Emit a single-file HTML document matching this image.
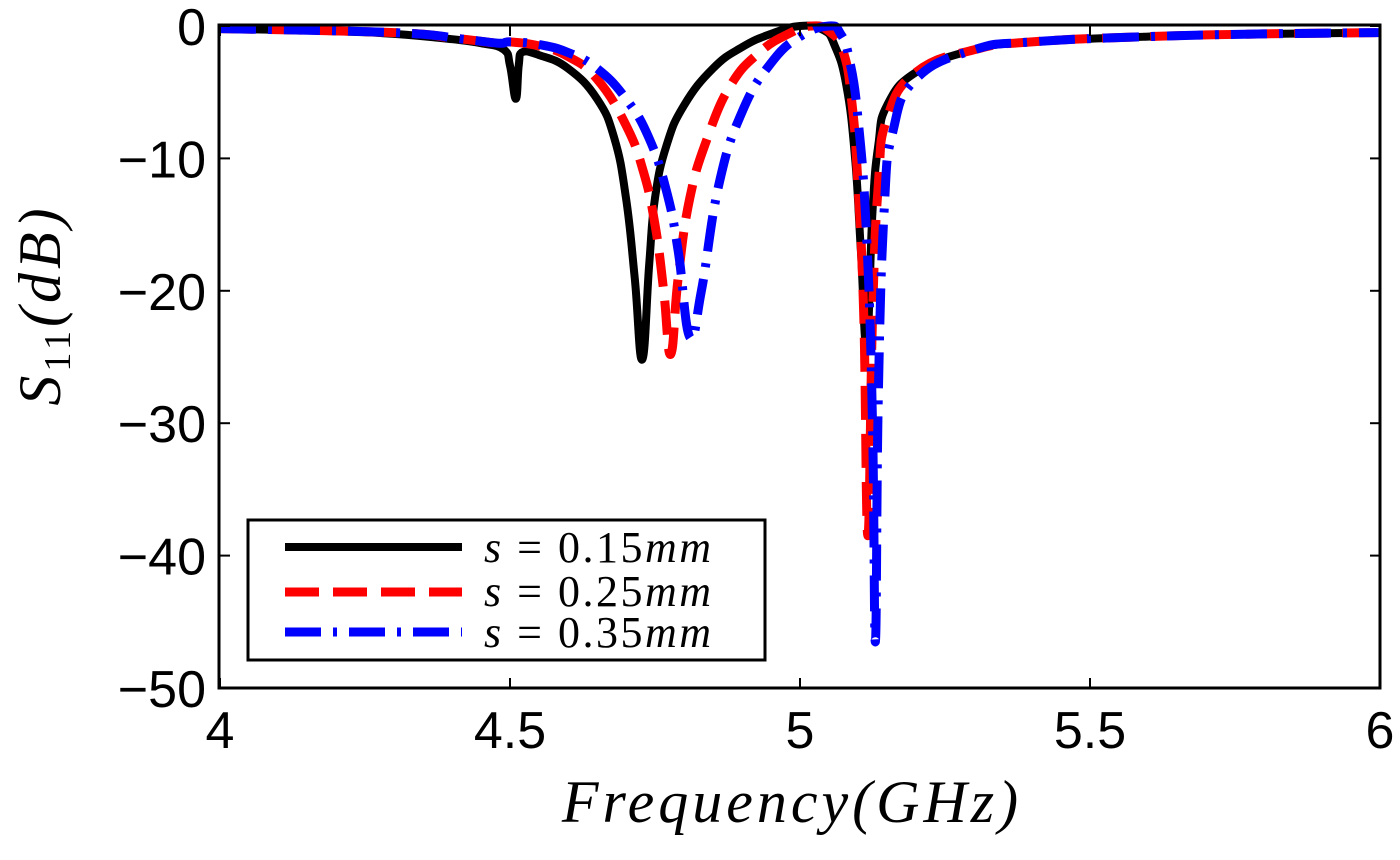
<!DOCTYPE html>
<html><head><meta charset="utf-8"><style>
body{margin:0;background:#fff}
svg{display:block}
.tick{font-family:"Liberation Sans",sans-serif;font-size:52px;fill:#000}
.math{font-family:"Liberation Serif",serif;font-style:italic;fill:#000}
</style></head><body>
<svg id="chart" width="1400" height="860" viewBox="0 0 1400 860" xmlns="http://www.w3.org/2000/svg">
<g id="series"></g>
<rect x="219" y="25" width="1161" height="663" fill="none" stroke="#000" stroke-width="3"/>
<g id="ticks"></g>
<text class="math" x="792" y="822" font-size="60" letter-spacing="4" text-anchor="middle">Frequency(GHz)</text>
<text class="math" font-size="60" letter-spacing="4" transform="translate(60,305) rotate(-90)" text-anchor="middle">S<tspan font-style="normal" font-size="38" dy="10">11</tspan><tspan dy="-10">(dB)</tspan></text>
<g>
<rect x="248" y="520" width="517" height="140" fill="#fff" stroke="#000" stroke-width="3"/>
<line x1="285" y1="547" x2="462" y2="547" stroke="#000" stroke-width="8"/>
<line x1="285" y1="592" x2="462" y2="592" stroke="#f00" stroke-width="9" stroke-dasharray="34 14"/>
<line x1="285" y1="632" x2="462" y2="632" stroke="#00f" stroke-width="9" stroke-dasharray="36 12 4 12"/>
<text class="math" x="484" y="562" font-size="44" letter-spacing="2.5">s <tspan font-style="normal">= 0.15</tspan>mm</text>
<text class="math" x="484" y="606" font-size="44" letter-spacing="2.5">s <tspan font-style="normal">= 0.25</tspan>mm</text>
<text class="math" x="484" y="647" font-size="44" letter-spacing="2.5">s <tspan font-style="normal">= 0.35</tspan>mm</text>
</g>
</svg>
<script>
const xTicks=[4,4.5,5,5.5,6];
const xTickLabels=["4","4.5","5","5.5","6"];
const yTicks=[0,-10,-20,-30,-40,-50];
const yTickLabels=["0","\u221210","\u221220","\u221230","\u221240","\u221250"];
const seriesNames=["s=0.15mm","s=0.25mm","s=0.35mm"];
const fBlack=[4.0,4.2,4.3,4.4,4.45,4.49,4.5,4.51,4.515,4.52,4.55,4.6,4.65,4.68,4.70,4.715,4.728,4.74,4.75,4.77,4.8,4.85,4.9,4.95,5.0,5.04,5.06,5.08,5.095,5.105,5.115,5.125,5.135,5.15,5.2,5.3,5.4,5.6,5.8,6.0];
const dBlack=[-0.2,-0.4,-0.6,-1.0,-1.3,-1.8,-3,-5.5,-3,-2,-2.2,-3.2,-5.5,-8.5,-13,-19,-25.2,-18,-13,-9,-6,-3.2,-1.6,-0.6,0,-0.3,-1.5,-4.5,-10,-17,-24,-14,-9,-6,-3.5,-1.8,-1.2,-0.8,-0.6,-0.5];
const fRed=[4.0,4.3,4.4,4.48,4.5,4.55,4.6,4.65,4.7,4.73,4.75,4.765,4.777,4.79,4.81,4.84,4.88,4.93,4.98,5.02,5.05,5.075,5.09,5.1,5.11,5.117,5.125,5.135,5.15,5.2,5.3,5.4,5.6,5.8,6.0];
const dRed=[-0.2,-0.5,-0.9,-1.3,-1.2,-1.5,-2.3,-4,-7.5,-11,-15,-20,-24.8,-19,-13,-8.5,-4.5,-2,-0.6,0,-0.4,-2,-6,-12,-22,-38.5,-22,-12,-7,-3.5,-1.8,-1.2,-0.8,-0.6,-0.5];
const fBlue=[4.0,4.3,4.42,4.48,4.5,4.55,4.6,4.65,4.7,4.74,4.77,4.79,4.81,4.83,4.86,4.9,4.95,5.0,5.05,5.07,5.085,5.1,5.115,5.125,5.13,5.135,5.145,5.16,5.2,5.3,5.4,5.6,5.8,6.0];
const dBlue=[-0.2,-0.5,-1.0,-1.3,-1.2,-1.4,-2.0,-3.2,-5.5,-8.5,-12.5,-17,-23.5,-20,-12,-6.5,-2.8,-0.8,0,-0.6,-2.5,-7,-16,-30,-46.5,-28,-14,-8,-4,-1.8,-1.2,-0.8,-0.6,-0.5];
const NS="http://www.w3.org/2000/svg";
const X0=220,X1=1380,Y0=26,Y1=688;
function xs(f){return X0+(f-4)/(6-4)*(X1-X0);}
function ys(d){return Y0+(0-d)/(50)*(Y1-Y0);}
const tg=document.getElementById('ticks');
xTicks.forEach((v,i)=>{
 const t=document.createElementNS(NS,'text');
 
 
 t.setAttribute('class','tick');t.setAttribute('x',xs(v));t.setAttribute('y',748);t.setAttribute('text-anchor','middle');
 t.textContent=xTickLabels[i];tg.appendChild(t);
 [[Y1,Y1-10],[Y0,Y0+10]].forEach(p=>{const l=document.createElementNS(NS,'line');
 
 
 l.setAttribute('x1',xs(v));l.setAttribute('x2',xs(v));l.setAttribute('y1',p[0]);l.setAttribute('y2',p[1]);l.setAttribute('stroke','#000');l.setAttribute('stroke-width','2');tg.appendChild(l);});
});
yTicks.forEach((v,i)=>{
 const t=document.createElementNS(NS,'text');
 
 
 t.setAttribute('class','tick');t.setAttribute('x',206);t.setAttribute('y',ys(v)+19);t.setAttribute('text-anchor','end');
 t.textContent=yTickLabels[i];tg.appendChild(t);
 [[X0,X0+10],[X1,X1-10]].forEach(p=>{const l=document.createElementNS(NS,'line');
 
 
 l.setAttribute('x1',p[0]);l.setAttribute('x2',p[1]);l.setAttribute('y1',ys(v));l.setAttribute('y2',ys(v));l.setAttribute('stroke','#000');l.setAttribute('stroke-width','2');tg.appendChild(l);});
});
const sg=document.getElementById('series');
function smoothPath(pts){
 let d='M'+pts[0][0].toFixed(1)+','+pts[0][1].toFixed(1);
 for(let i=0;i<pts.length-1;i++){
  const p0=pts[Math.max(0,i-1)],p1=pts[i],p2=pts[i+1],p3=pts[Math.min(pts.length-1,i+2)];
  const t=0.22;
  const c1=[p1[0]+(p2[0]-p0[0])*t,p1[1]+(p2[1]-p0[1])*t];
  const c2=[p2[0]-(p3[0]-p1[0])*t,p2[1]-(p3[1]-p1[1])*t];
  c1[0]=Math.min(Math.max(c1[0],p1[0]),p2[0]);c2[0]=Math.min(Math.max(c2[0],p1[0]),p2[0]);
  d+=' C'+c1[0].toFixed(1)+','+c1[1].toFixed(1)+' '+c2[0].toFixed(1)+','+c2[1].toFixed(1)+' '+p2[0].toFixed(1)+','+p2[1].toFixed(1);
 }
 return d;
}
function draw(f,d,color,dash,w,name){
 const p=document.createElementNS(NS,'path');
 
 
 p.setAttribute('d',smoothPath(f.map((v,i)=>[xs(v),ys(d[i])])));
 p.setAttribute('fill','none');p.setAttribute('stroke',color);p.setAttribute('stroke-width',w);
 p.setAttribute('stroke-linejoin','round');
 if(dash)p.setAttribute('stroke-dasharray',dash);
 sg.appendChild(p);
}
draw(fBlack,dBlack,'#000',null,8,'series-s015');
draw(fRed,dRed,'#f00','34 14',9,'series-s025');
draw(fBlue,dBlue,'#00f','36 12 4 12',9,'series-s035');
</script>
</body></html>
